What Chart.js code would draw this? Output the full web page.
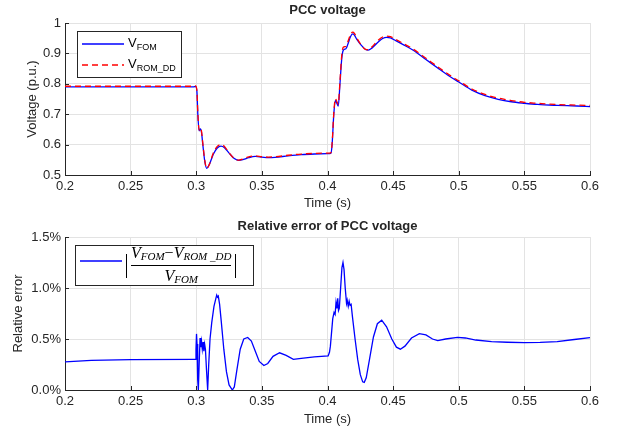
<!DOCTYPE html>
<html>
<head>
<meta charset="utf-8">
<script src="https://cdn.jsdelivr.net/npm/chart.js@4.4.1/dist/chart.umd.min.js"></script>
<style>
  body { margin: 0; background: #fff; }
  #wrap { position: relative; width: 621px; height: 430px; }
  canvas { position: absolute; left: 0; }
  .lbl { position: absolute; font-family: "Liberation Sans", Arial, sans-serif; font-size: 13px; white-space: nowrap; color: #000; }
  .lbl sub { font-size: 9px; vertical-align: -3px; }
  .math { position: absolute; display: flex; align-items: center; font-family: "Liberation Serif", "DejaVu Serif", serif; font-style: italic; white-space: nowrap; color: #000; }
  .abs { width: 0; height: 24px; border-left: 1px solid #000; }
  .frac { display: flex; flex-direction: column; align-items: center; margin: 0 4px; }
  .frac .num, .frac .den { font-size: 16px; line-height: 15px; }
  .frac sub { font-size: 11px; vertical-align: -2px; }
  .frac .bar { width: 100%; border-top: 1px solid #000; margin: 1px 0 2px; }
</style>
</head>
<body>
<div id="wrap">
  <canvas id="top" width="621" height="215" style="top:0"></canvas>
  <canvas id="bottom" width="621" height="215" style="top:215px"></canvas>

  <div class="lbl" style="left:128px;top:35px;">V<sub>FOM</sub></div>
  <div class="lbl" style="left:128px;top:56px;">V<sub>ROM_DD</sub></div>

  <div class="math" style="left:126px;top:247px;height:37px;">
    <div class="abs"></div>
    <div class="frac">
      <div class="num">V<sub>FOM</sub><span style="font-style:normal">&minus;</span>V<sub>ROM _DD</sub></div>
      <div class="bar"></div>
      <div class="den">V<sub>FOM</sub></div>
    </div>
    <div class="abs"></div>
  </div>
</div>

<script>
// time axis of the top plot (s)
const tTop = [
  0.2, 0.25, 0.298, 0.2995, 0.3005, 0.3012, 0.3022, 0.3032, 0.304, 0.305,
  0.3065, 0.308, 0.31, 0.313, 0.316, 0.3188, 0.3215, 0.325, 0.329, 0.3325,
  0.336, 0.34, 0.345, 0.35, 0.355, 0.36, 0.37, 0.38, 0.39, 0.4,
  0.4025, 0.4035, 0.4048, 0.406, 0.4072, 0.4082, 0.4095, 0.4108, 0.412, 0.414,
  0.4155, 0.4175, 0.4192, 0.4205, 0.4225, 0.4255, 0.429, 0.431, 0.434, 0.438,
  0.442, 0.445, 0.448, 0.452, 0.458, 0.465, 0.475, 0.485, 0.495, 0.5,
  0.51, 0.52, 0.53, 0.54, 0.55, 0.56, 0.575, 0.59, 0.6
];
// PCC voltage, full order model (p.u.)
const vFom = [
  0.790, 0.790, 0.790, 0.791, 0.775, 0.700, 0.645, 0.652, 0.640, 0.600,
  0.545, 0.522, 0.535, 0.568, 0.589, 0.595, 0.590, 0.572, 0.554, 0.548,
  0.551, 0.557, 0.561, 0.559, 0.557, 0.558, 0.563, 0.567, 0.569, 0.570,
  0.571, 0.600, 0.700, 0.745, 0.735, 0.727, 0.800, 0.880, 0.910, 0.915,
  0.930, 0.955, 0.964, 0.960, 0.945, 0.928, 0.913, 0.911, 0.918, 0.935,
  0.949, 0.953, 0.951, 0.942, 0.928, 0.911, 0.880, 0.849, 0.819, 0.806,
  0.779, 0.761, 0.749, 0.741, 0.736, 0.732, 0.729, 0.727, 0.725
];
// PCC voltage, reduced order model (p.u.)
const vRom = [
  0.792, 0.792, 0.792, 0.793, 0.778, 0.705, 0.648, 0.655, 0.644, 0.604,
  0.548, 0.522, 0.535, 0.572, 0.594, 0.600, 0.594, 0.573, 0.554, 0.549,
  0.553, 0.560, 0.563, 0.560, 0.559, 0.560, 0.565, 0.569, 0.571, 0.572,
  0.573, 0.603, 0.705, 0.751, 0.741, 0.733, 0.809, 0.891, 0.920, 0.923,
  0.938, 0.962, 0.970, 0.966, 0.949, 0.929, 0.913, 0.912, 0.922, 0.941,
  0.954, 0.957, 0.955, 0.946, 0.932, 0.915, 0.884, 0.853, 0.823, 0.810,
  0.783, 0.765, 0.753, 0.745, 0.739, 0.736, 0.732, 0.730, 0.729
];

// time axis of the error plot (s)
const tErr = [
  0.2, 0.22, 0.25, 0.2992, 0.2998, 0.3002, 0.3006, 0.3011, 0.3016, 0.3022,
  0.3029, 0.3034, 0.304, 0.3046, 0.3052, 0.3058, 0.3064, 0.307, 0.3078, 0.3087,
  0.3095, 0.3105, 0.3118, 0.3135, 0.315, 0.3156, 0.3162, 0.3168, 0.3178, 0.319,
  0.321, 0.323, 0.325, 0.3275, 0.329, 0.331, 0.3335, 0.3362, 0.3392, 0.342,
  0.345, 0.348, 0.3515, 0.3545, 0.3585, 0.3635, 0.3685, 0.374, 0.38, 0.39,
  0.4005, 0.4015, 0.4022, 0.403, 0.404, 0.405, 0.4058, 0.4065, 0.4072, 0.4078,
  0.4084, 0.409, 0.41, 0.411, 0.4118, 0.4126, 0.4135, 0.4145, 0.415, 0.4158,
  0.4165, 0.4172, 0.418, 0.419, 0.421, 0.423, 0.425, 0.4268, 0.428, 0.4295,
  0.432, 0.435, 0.438, 0.4413, 0.445, 0.449, 0.4525, 0.4555, 0.459, 0.464,
  0.47, 0.475, 0.48, 0.484, 0.49, 0.499, 0.505, 0.513, 0.525, 0.537,
  0.55, 0.562, 0.575, 0.588, 0.6
];
// relative error (%)
const errPct = [
  0.275, 0.29, 0.298, 0.30, 0.40, 0.55, 0.45, 0.10, 0.0, 0.25,
  0.51, 0.42, 0.48, 0.40, 0.47, 0.38, 0.45, 0.40, 0.20, 0.0,
  0.25, 0.50, 0.66, 0.82, 0.90, 0.93, 0.91, 0.92, 0.84, 0.68,
  0.40, 0.18, 0.05, 0.0, 0.03, 0.20, 0.40, 0.50, 0.515, 0.48,
  0.38, 0.28, 0.24, 0.26, 0.33, 0.365, 0.34, 0.30, 0.31, 0.325,
  0.335, 0.37, 0.43, 0.55, 0.70, 0.76, 0.74, 0.86, 0.80, 0.90,
  0.78, 0.80, 1.00, 1.20, 1.25, 1.18, 1.00, 0.85, 0.88, 0.82,
  0.87, 0.83, 0.84, 0.72, 0.50, 0.30, 0.15, 0.08, 0.075, 0.12,
  0.30, 0.52, 0.65, 0.685, 0.62, 0.50, 0.42, 0.40, 0.43, 0.51,
  0.552, 0.54, 0.50, 0.485, 0.50, 0.515, 0.51, 0.49, 0.475, 0.468,
  0.464, 0.466, 0.475, 0.495, 0.513
];

const INK = "#262626";
Chart.defaults.font.family = '"Liberation Sans", Arial, sans-serif';
Chart.defaults.font.size = 13;
Chart.defaults.color = INK;

// titles centred over the plot area, MATLAB-style inward ticks, legend box + swatches
const matlabBits = {
  id: "matlabBits",
  afterDraw(chart, args, opts) {
    const c = chart.ctx, a = chart.chartArea;
    c.save();
    c.fillStyle = INK;
    c.font = 'bold 13px "Liberation Sans", Arial, sans-serif';
    c.textAlign = "center";
    c.textBaseline = "middle";
    c.fillText(opts.text, (a.left + a.right) / 2, opts.y);
    c.strokeStyle = INK;
    c.lineWidth = 1;
    const xs = chart.scales.x, ys = chart.scales.y;
    c.beginPath();
    xs.ticks.forEach((t, i) => {
      const px = Math.round(xs.getPixelForTick(i)) + 0.5;
      c.moveTo(px, a.bottom); c.lineTo(px, a.bottom - 4);
    });
    ys.ticks.forEach((t, i) => {
      const py = Math.round(ys.getPixelForTick(i)) + 0.5;
      c.moveTo(a.left, py); c.lineTo(a.left + 4, py);
    });
    c.stroke();

    const lb = opts.box;
    c.fillStyle = "#fff";
    c.fillRect(lb.x, lb.y, lb.w, lb.h);
    c.strokeStyle = INK;
    c.strokeRect(lb.x + 0.5, lb.y + 0.5, lb.w, lb.h);
    chart.data.datasets.forEach((ds, i) => {
      const sy = lb.y + lb.rows[i];
      c.beginPath();
      c.strokeStyle = ds.borderColor;
      c.lineWidth = 1.3;
      c.setLineDash(ds.borderDash || []);
      c.moveTo(lb.x + 5, sy); c.lineTo(lb.x + 47, sy);
      c.stroke();
    });
    c.restore();
  }
};

function pts(xs, ys) {
  return xs.map((x, i) => ({ x: x, y: ys[i] }));
}

function xAxis(titlePad) {
  return {
    type: "linear", min: 0.2, max: 0.6,
    afterFit: s => { s.height = 40; },
    grid: { color: "#e3e3e3", drawTicks: false },
    border: { color: INK },
    ticks: { stepSize: 0.05, padding: 4, maxRotation: 0,
             callback: v => String(Number(v.toFixed(2))) },
    title: { display: true, text: "Time (s)", padding: { top: 0, bottom: titlePad } }
  };
}

new Chart(document.getElementById("top"), {
  type: "line",
  data: {
    datasets: [
      { label: "V_FOM", data: pts(tTop, vFom), borderColor: "#0000ff", borderWidth: 1.3,
        pointRadius: 0, cubicInterpolationMode: "monotone", order: 1 },
      { label: "V_ROM_DD", data: pts(tTop, vRom), borderColor: "#ff0000", borderWidth: 1.3,
        borderDash: [6, 4], pointRadius: 0, cubicInterpolationMode: "monotone", order: 0 }
    ]
  },
  options: {
    responsive: false, animation: false,
    layout: { padding: { left: 0, right: 31, top: 23, bottom: 0 } },
    plugins: { legend: { display: false }, tooltip: { enabled: false },
               matlabBits: { text: "PCC voltage", y: 10,
                             box: { x: 77, y: 31, w: 104, h: 46, rows: [13, 34] } } },
    scales: {
      x: xAxis(4),
      y: {
        min: 0.5, max: 1,
        afterFit: s => { s.width = 65; },
        grid: { color: "#e3e3e3", drawTicks: false },
        border: { color: INK },
        ticks: { stepSize: 0.1, padding: 4, callback: v => String(Number(v.toFixed(1))) },
        title: { display: true, text: "Voltage (p.u.)", padding: { top: 25, bottom: 0 } }
      }
    }
  },
  plugins: [matlabBits]
});

new Chart(document.getElementById("bottom"), {
  type: "line",
  data: {
    datasets: [
      { label: "error", data: pts(tErr, errPct), borderColor: "#0000ff", borderWidth: 1.3,
        pointRadius: 0, tension: 0 }
    ]
  },
  options: {
    responsive: false, animation: false,
    layout: { padding: { left: 0, right: 31, top: 22, bottom: 0 } },
    plugins: { legend: { display: false }, tooltip: { enabled: false },
               matlabBits: { text: "Relative error of PCC voltage", y: 11,
                             box: { x: 75, y: 30, w: 178, h: 40, rows: [16] } } },
    scales: {
      x: xAxis(3),
      y: {
        min: 0, max: 1.5,
        afterFit: s => { s.width = 65; },
        grid: { color: "#e3e3e3", drawTicks: false },
        border: { color: INK },
        ticks: { stepSize: 0.5, padding: 4, callback: v => v.toFixed(1) + "%" },
        title: { display: true, text: "Relative error", padding: { top: 11, bottom: 0 } }
      }
    }
  },
  plugins: [matlabBits]
});
</script>
</body>
</html>
